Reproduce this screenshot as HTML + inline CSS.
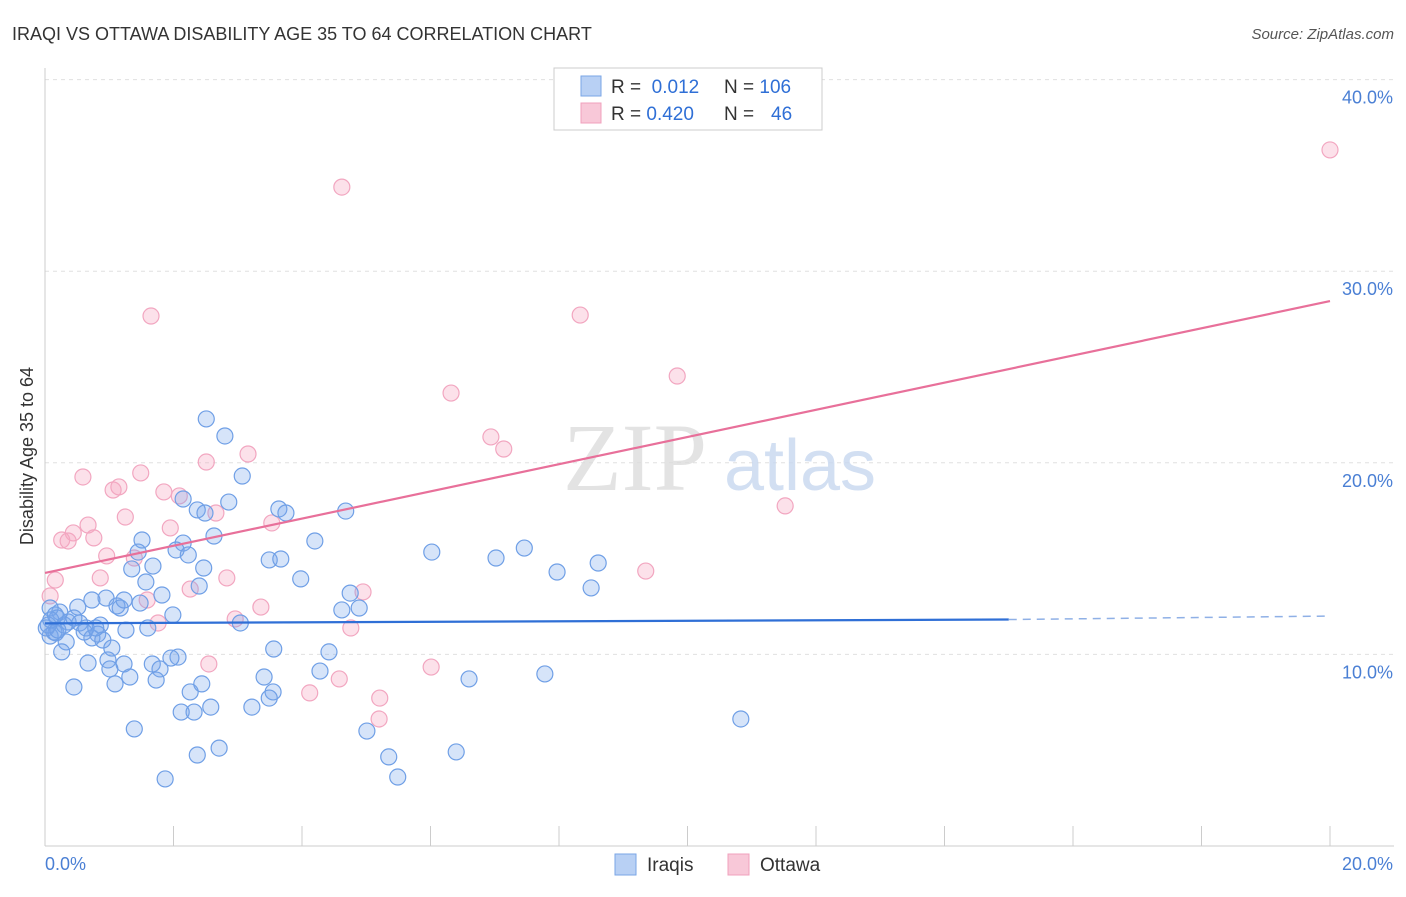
<!DOCTYPE html>
<html><head><meta charset="utf-8">
<style>
html,body{margin:0;padding:0;background:#fff;}
body{width:1406px;height:892px;overflow:hidden;font-family:"Liberation Sans",sans-serif;}
</style></head>
<body>
<svg width="1406" height="892" xmlns="http://www.w3.org/2000/svg" id="chart">
<text x="12" y="40" font-size="18" fill="#333">IRAQI VS OTTAWA DISABILITY AGE 35 TO 64 CORRELATION CHART</text>
<text x="1394" y="39" font-size="15" fill="#555" font-style="italic" text-anchor="end">Source: ZipAtlas.com</text>
<g id="grid"></g>
<g>
<text x="635" y="490" font-size="96" font-family="Liberation Serif,serif" fill="#ddd" text-anchor="middle" opacity="0.8">ZIP</text>
<text x="800" y="490" font-size="72" fill="#c8d8f0" text-anchor="middle" opacity="0.8">atlas</text>
</g>
<line x1="45" y1="68" x2="45" y2="846" stroke="#ccc"/>
<line x1="45" y1="846" x2="1394" y2="846" stroke="#ccc"/>
<g id="xticks"></g>
<g id="yticks"></g>
<text x="33" y="456" font-size="18" fill="#333" text-anchor="middle" transform="rotate(-90 33 456)">Disability Age 35 to 64</text>
<text x="45" y="870" font-size="18" fill="#4a7fd4">0.0%</text>
<text x="1393" y="870" font-size="18" fill="#4a7fd4" text-anchor="end">20.0%</text>
<g id="pinkpts"></g>
<g id="bluepts"></g>
<g id="lines"></g>
<g>
<rect x="554" y="68" width="268" height="62" fill="#fff" stroke="#ccc"/>
<rect x="581" y="76" width="20" height="20" fill="#b8d0f4" stroke="#7aa6e6"/>
<rect x="581" y="103" width="20" height="20" fill="#f8c8d8" stroke="#f0a0bc"/>
<text x="611" y="93" font-size="19" fill="#333">R = <tspan fill="#2f6fd6">&#160;0.012</tspan><tspan x="724">N = </tspan><tspan fill="#2f6fd6">106</tspan></text>
<text x="611" y="120" font-size="19" fill="#333">R = <tspan fill="#2f6fd6">0.420</tspan><tspan x="724">N = </tspan><tspan fill="#2f6fd6" x="771">46</tspan></text>
</g>
<g>
<rect x="615" y="854" width="21" height="21" fill="#b8d0f4" stroke="#7aa6e6"/>
<text x="647" y="871" font-size="19" fill="#333">Iraqis</text>
<rect x="728" y="854" width="21" height="21" fill="#f8c8d8" stroke="#f0a0bc"/>
<text x="760" y="871" font-size="19" fill="#333">Ottawa</text>
</g>
</svg>
<script>
const yTicks=[10,20,30,40];
const yTickLabels=["10.0%","20.0%","30.0%","40.0%"];
const xTickVals=[0,2,4,6,8,10,12,14,16,18,20];
const iraqiX=[2.51,2.80,3.07,2.15,2.37,2.86,2.49,3.64,3.75,4.68,1.51,2.63,2.15,2.04,1.45,2.23,4.20,3.49,3.67,6.02,7.02,7.46,8.61,1.35,1.68,1.57,2.47,2.40,3.98,4.75,7.97,8.50,1.82,1.48,1.12,1.17,0.95,1.23,0.73,0.51,0.23,0.08,0.19,0.36,0.54,0.86,0.64,1.99,3.04,4.62,4.89,1.60,1.26,0.82,0.73,0.90,1.04,0.33,0.14,0.08,0.02,0.26,0.67,0.98,1.23,1.01,1.67,1.79,2.07,1.96,1.32,1.73,1.09,0.45,3.56,4.42,4.28,3.41,7.78,6.60,2.26,2.44,3.55,3.49,3.22,2.58,2.12,2.32,1.39,5.01,10.83,2.71,2.37,5.35,6.40,1.87,5.49,0.17,0.05,0.09,0.20,0.30,0.79,0.61,0.45,0.16];
const iraqiY=[22.29,21.40,19.31,18.11,17.54,17.95,17.38,17.59,17.38,17.48,15.97,16.18,15.81,15.45,15.34,15.19,15.92,14.93,14.98,15.34,15.03,15.55,14.77,14.46,14.61,13.78,14.51,13.57,13.94,13.20,14.30,13.47,13.10,12.68,12.53,12.42,12.94,12.84,12.84,12.47,12.21,12.42,11.90,11.69,11.64,11.53,11.38,12.06,11.64,12.32,12.42,11.38,11.27,11.06,10.86,10.75,10.33,10.65,11.17,10.96,11.38,10.13,9.55,9.71,9.50,9.24,9.50,9.24,9.86,9.81,8.82,8.66,8.46,8.30,10.28,10.13,9.13,8.82,8.98,8.72,8.04,8.46,8.04,7.72,7.25,7.25,6.99,6.99,6.11,6.00,6.63,5.11,4.75,4.65,4.91,3.50,3.60,11.12,11.53,11.80,11.27,11.53,11.38,11.17,11.90,12.06];
const ottawaX=[20.0,4.62,1.65,8.33,9.84,6.32,6.94,7.14,3.16,2.51,0.59,1.49,1.06,1.15,1.85,2.09,1.25,2.66,3.53,1.95,0.67,0.44,0.26,0.36,0.76,0.96,1.39,11.52,9.35,0.16,0.86,2.83,2.26,1.59,3.36,2.96,1.76,4.95,4.76,0.08,2.55,6.01,4.12,4.58,5.21,5.20];
const ottawaY=[36.33,34.39,27.66,27.71,24.53,23.64,21.35,20.72,20.46,20.04,19.26,19.47,18.58,18.74,18.48,18.27,17.17,17.38,16.86,16.60,16.75,16.34,15.97,15.92,16.08,15.14,15.03,17.75,14.35,13.88,13.99,13.99,13.41,12.84,12.47,11.85,11.64,13.26,11.38,13.05,9.50,9.34,7.99,8.72,7.72,6.63];
const iraqiTrend=[11.62,11.82,12.0]; // at x=0, 15, 20
const ottawaTrend=[14.25,28.44]; // at x=0, 20
const NS="http://www.w3.org/2000/svg";
const sx=v=>45+v*64.25;
const sy=v=>846-v*19.16;
function mk(tag,attrs,parent){const e=document.createElementNS(NS,tag);for(const k in attrs)e.setAttribute(k,attrs[k]);parent.appendChild(e);return e;}
const grid=document.getElementById('grid'),yt=document.getElementById('yticks'),xt=document.getElementById('xticks');
yTicks.forEach((t,i)=>{
  const l=mk('line',{x1:45,x2:1394,y1:sy(t),y2:sy(t),stroke:'#e0e0e0','stroke-dasharray':'4,4'},grid);
  
  
  const tx=mk('text',{x:1393,y:sy(t)+24,'font-size':18,fill:'#4a7fd4','text-anchor':'end'},yt);
  tx.textContent=yTickLabels[i];
  
  
});
xTickVals.forEach(t=>{
  const l=mk('line',{x1:sx(t),x2:sx(t),y1:826,y2:846,stroke:'#ccc'},xt);
  
  
});
const pp=document.getElementById('pinkpts');
ottawaX.forEach((x,i)=>{
  const c=mk('circle',{cx:sx(x),cy:sy(ottawaY[i]),r:8,fill:'rgba(245,170,195,0.35)',stroke:'#f2a6c0','stroke-width':1.2},pp);
  
  
});
const bp=document.getElementById('bluepts');
iraqiX.forEach((x,i)=>{
  const c=mk('circle',{cx:sx(x),cy:sy(iraqiY[i]),r:8,fill:'rgba(120,165,235,0.3)',stroke:'#6f9fe6','stroke-width':1.2},bp);
  
  
});
const lg=document.getElementById('lines');
const p=mk('line',{x1:sx(0),y1:sy(ottawaTrend[0]),x2:sx(20),y2:sy(ottawaTrend[1]),stroke:'#e8709a','stroke-width':2.2},lg);


const b=mk('line',{x1:sx(0),y1:sy(iraqiTrend[0]),x2:sx(15),y2:sy(iraqiTrend[1]),stroke:'#2f6fd6','stroke-width':2.2},lg);


const bd=mk('line',{x1:sx(15),y1:sy(iraqiTrend[1]),x2:sx(20),y2:sy(iraqiTrend[2]),stroke:'#8fb0e6','stroke-width':1.5,'stroke-dasharray':'8,6'},lg);


</script>
</body></html>
